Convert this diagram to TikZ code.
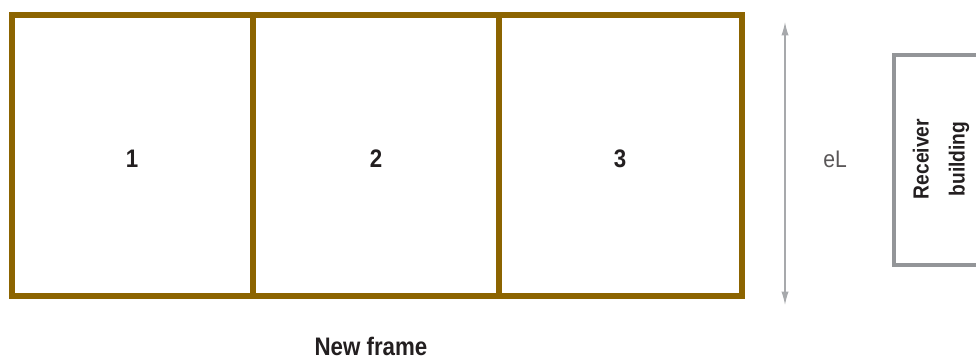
\documentclass[tikz,border=0pt]{standalone}
\usepackage{fontspec}
\setmainfont{Liberation Sans}
\newfontfamily\condsans[FakeStretch=0.88]{Liberation Sans}
\usepackage{tikz}
\usetikzlibrary{arrows.meta,positioning}
\usepackage{xcolor}
\definecolor{frame}{HTML}{8C6400}
\definecolor{steel}{HTML}{939598}
\definecolor{haze}{HTML}{A7A9AC}
\definecolor{type}{HTML}{231F20}
\tikzset{framebox/.style={draw=frame,line width=3.9pt},bldgbox/.style={draw=steel,line width=3pt},dimline/.style={haze,line width=.9pt,{Latex[length=10pt,width=5.4pt]}-{Latex[length=10pt,width=5.4pt]}},cellnum/.style={font=\condsans\fontsize{19}{22}\selectfont\bfseries,text=type},caption/.style={font=\condsans\fontsize{19}{22}\selectfont\bfseries,text=type},dimlabel/.style={font=\condsans\fontsize{18}{20}\selectfont,text=type!75},bldglabel/.style={font=\condsans\fontsize{16.4}{27}\selectfont\bfseries,text=type,align=center,rotate=90}}

\begin{document}
\begin{tikzpicture}[x=.75pt,y=-.75pt]
\useasboundingbox (0,0) rectangle (976,363);
% new frame, three bays
\draw[framebox] (12,15) rectangle (742,296);
\draw[framebox] (253,15) -- (253,296);
\draw[framebox] (499,15) -- (499,296);
\node[cellnum] (bay1) at (132,159) {1};
\node[cellnum] (bay2) at (376,159) {2};
\node[cellnum] (bay3) at (620,159) {3};
\node[caption] (frm) at (371,346) {New frame};
% span
\coordinate (spantop) at (785,22);
\coordinate (spanbot) at (785,305);
\draw[dimline] (spantop) -- (spanbot);
\node[dimlabel] (span) at (835,159) {eL};
% receiver building
\draw[bldgbox] (990,55) -| (894,265) -- (990,265);
\node[bldglabel] (rcv) at (941,159) {Receiver\\building};
\end{tikzpicture}
\end{document}
